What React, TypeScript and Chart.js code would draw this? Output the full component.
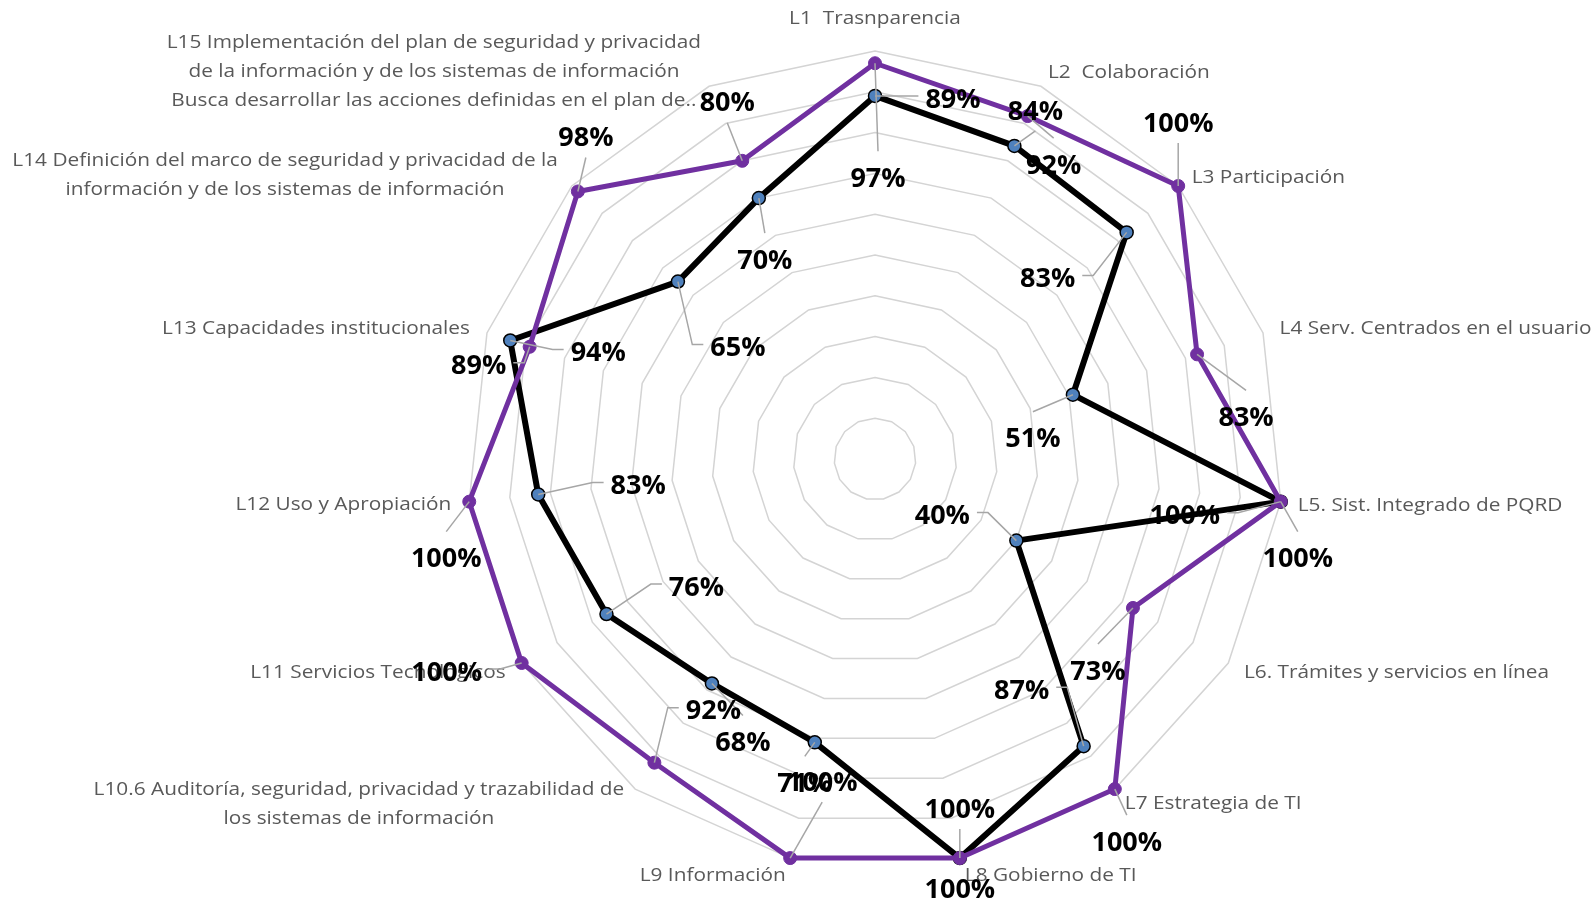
import React, { useEffect, useRef } from 'react';
import { Chart, registerables } from 'chart.js';

Chart.register(...registerables);

// ---- data ----
const categories: (string | string[])[] = [
  'L1  Trasnparencia',
  'L2  Colaboración',
  'L3 Participación',
  'L4 Serv. Centrados en el usuario',
  'L5. Sist. Integrado de PQRD',
  'L6. Trámites y servicios en línea',
  'L7 Estrategia de TI',
  'L8 Gobierno de TI',
  'L9 Información',
  ['L10.6 Auditoría, seguridad, privacidad y trazabilidad de', 'los sistemas de información'],
  'L11 Servicios Tecnológicos',
  'L12 Uso y Apropiación',
  'L13 Capacidades institucionales',
  ['L14 Definición del marco de seguridad y privacidad de la', 'información y de los sistemas de información'],
  [
    'L15 Implementación del plan de seguridad y privacidad',
    'de la información y de los sistemas de información',
    'Busca desarrollar las acciones definidas en el plan de..',
  ],
];

const purpleSeriesName = 'Serie 2';
const purpleValues = [97, 92, 100, 83, 100, 73, 100, 100, 100, 92, 100, 100, 89, 98, 80];

const blackSeriesName = 'Serie 1';
const blackValues = [89, 84, 83, 51, 100, 40, 87, 100, 71, 68, 76, 83, 94, 65, 70];

const scaleMin = 0;
const scaleMax = 100;
const scaleStep = 10;

// ---- label layout (offsets from each mark, in px) ----
const purpleLabelOffsets: [number, number][] = [
  [3, 114], [26, 48], [0, -64], [49, 62], [17, 56], [-35, 62], [12, 52], [0, 30],
  [32, -77], [59, -53], [-75, 8], [-23, 56], [-51, 18], [8, -55], [-15, -59],
];
const blackLabelOffsets: [number, number][] = [
  [78, 2], [21, -36], [-79, 45], [-40, 43], [-96, 13], [-74, -26], [-62, -57], [0, -50],
  [-10, 40], [31, 58], [90, -28], [100, -10], [88, 11], [60, 65], [6, 61],
];
// offsets of the axis titles from the outer ring vertex, with alignment
const axisLabelPlacement: [number, number, 'left' | 'right' | 'center'][] = [
  [0, -33.5, 'center'], [7, -15, 'left'], [13.5, -10, 'left'], [16.5, -5.6, 'left'],
  [17, 3, 'left'], [15.6, 8.3, 'left'], [10, 13.4, 'left'], [5, 16, 'left'],
  [-4.4, 16, 'right'], [-11, 14, 'right'], [-16, 8.5, 'right'], [-18, 2, 'right'],
  [-17, -5.6, 'right'], [-14, -12, 'right'], [-8, -16, 'right'],
];

const AXIS_FONT_SIZE = 19;
const AXIS_STRETCH = 1.095;
const AXIS_LINE_H = 29;
const VALUE_FONT_SIZE = 27;
const CAP = 0.357;

const axisLabelsPlugin = {
  id: 'axisLabels',
  beforeDatasetsDraw(chart: any) {
    const ctx = chart.ctx as CanvasRenderingContext2D;
    const scale = chart.scales.r;
    ctx.save();
    ctx.font = `${AXIS_FONT_SIZE}px "Open Sans"`;
    ctx.fillStyle = '#595959';
    ctx.textBaseline = 'alphabetic';
    ctx.textAlign = 'center';
    categories.forEach((cat, i) => {
      const p = scale.getPointPosition(i, scale.drawingArea);
      const [dx, dy, align] = axisLabelPlacement[i];
      const lines = Array.isArray(cat) ? cat : [cat];
      const bw = Math.max(...lines.map((l) => ctx.measureText(l).width)) * AXIS_STRETCH;
      const ax = p.x + dx;
      const ay = p.y + dy;
      const left = align === 'left' ? ax : align === 'right' ? ax - bw : ax - bw / 2;
      const top = ay - ((lines.length - 1) * AXIS_LINE_H) / 2;
      lines.forEach((l, k) => {
        ctx.save();
        ctx.translate(left + bw / 2, top + k * AXIS_LINE_H + CAP * AXIS_FONT_SIZE);
        ctx.scale(AXIS_STRETCH, 1);
        ctx.fillText(l, 0, 0);
        ctx.restore();
      });
    });
    ctx.restore();
  },
};

function drawLeader(ctx: CanvasRenderingContext2D, px: number, py: number, lx: number, ly: number, w: number) {
  const left = lx - w / 2;
  const right = lx + w / 2;
  let gapX = 0;
  if (px < left) gapX = left - px;
  else if (px > right) gapX = px - right;
  const dy = ly - py;
  const side = gapX > 25 || (gapX > 0 && Math.abs(dy) < 30);
  ctx.beginPath();
  if (side) {
    const onLeft = px < lx;
    const ex = onLeft ? left - 7 : right + 7;
    const sx = onLeft ? ex - 11 : ex + 11;
    const ey = ly - 2;
    ctx.moveTo(px, py);
    ctx.lineTo(sx, ey);
    ctx.lineTo(ex, ey);
  } else {
    const ey = dy > 0 ? ly - 26 : ly + 21;
    if (Math.hypot(lx - px, ey - py) < 6) return;
    ctx.moveTo(px, py);
    ctx.lineTo(lx, ey);
  }
  ctx.stroke();
}

const valueLabelsPlugin = {
  id: 'valueLabels',
  afterDatasetsDraw(chart: any) {
    const ctx = chart.ctx as CanvasRenderingContext2D;
    const sets = [
      { meta: chart.getDatasetMeta(0), values: purpleValues, offsets: purpleLabelOffsets },
      { meta: chart.getDatasetMeta(1), values: blackValues, offsets: blackLabelOffsets },
    ];
    ctx.save();
    ctx.font = `bold ${VALUE_FONT_SIZE}px "Open Sans"`;
    const items: { px: number; py: number; lx: number; ly: number; text: string; w: number }[] = [];
    sets.forEach((s) => {
      s.meta.data.forEach((el: any, i: number) => {
        const text = `${s.values[i]}%`;
        const [dx, dy] = s.offsets[i];
        items.push({ px: el.x, py: el.y, lx: el.x + dx, ly: el.y + dy, text, w: ctx.measureText(text).width });
      });
    });
    ctx.strokeStyle = '#a6a6a6';
    ctx.lineWidth = 1.5;
    items.forEach((it) => drawLeader(ctx, it.px, it.py, it.lx, it.ly, it.w));
    ctx.fillStyle = '#000000';
    ctx.textAlign = 'center';
    ctx.textBaseline = 'alphabetic';
    items.forEach((it) => ctx.fillText(it.text, it.lx, it.ly + CAP * VALUE_FONT_SIZE));
    ctx.restore();
  },
};

export default function App() {
  const canvasRef = useRef<HTMLCanvasElement | null>(null);

  useEffect(() => {
    if (!canvasRef.current) return;
    const chart = new Chart(canvasRef.current, {
      type: 'radar',
      data: {
        labels: categories,
        datasets: [
          {
            label: purpleSeriesName,
            data: purpleValues,
            borderColor: '#7030a0',
            backgroundColor: '#7030a0',
            borderWidth: 5,
            borderJoinStyle: 'round',
            fill: false,
            pointRadius: 6.5,
            pointBackgroundColor: '#7030a0',
            pointBorderColor: '#7030a0',
            pointBorderWidth: 1,
          },
          {
            label: blackSeriesName,
            data: blackValues,
            borderColor: '#000000',
            backgroundColor: '#000000',
            borderWidth: 6,
            borderJoinStyle: 'round',
            fill: false,
            pointRadius: 6.5,
            pointBackgroundColor: '#4f81bd',
            pointBorderColor: '#000000',
            pointBorderWidth: 1.5,
          },
        ],
      },
      options: {
        animation: false,
        responsive: false,
        maintainAspectRatio: false,
        devicePixelRatio: 1,
        layout: { padding: { left: 467, top: 51.5, right: 313, bottom: 32.5 } },
        plugins: { legend: { display: false }, tooltip: { enabled: false } },
        scales: {
          r: {
            min: scaleMin,
            max: scaleMax,
            ticks: { display: false, stepSize: scaleStep },
            grid: { circular: false, color: '#d4d4d4', lineWidth: 1.5 },
            angleLines: { display: false },
            pointLabels: { display: false },
          },
        },
      },
      plugins: [axisLabelsPlugin, valueLabelsPlugin],
    } as any);
    return () => chart.destroy();
  }, []);

  return (
    <div style={{ position: 'fixed', left: 0, top: 0, width: 1596, height: 900, background: '#ffffff' }}>
      <canvas ref={canvasRef} width={1596} height={900} style={{ display: 'block' }} />
    </div>
  );
}
